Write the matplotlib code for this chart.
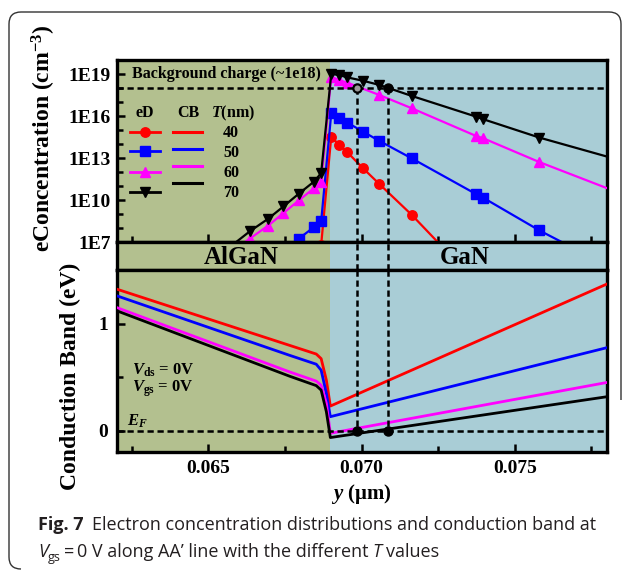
import numpy as np
import matplotlib
matplotlib.use("Agg")
import matplotlib.pyplot as plt
from matplotlib.path import Path
from matplotlib.patches import PathPatch
from matplotlib.lines import Line2D

# ---- data -------------------------------------------------------------
t_values = [40, 50, 60, 70]
colors = ["#ff0000", "#0000ff", "#ff00ff", "#000000"]
markers = ["o", "s", "^", "v"]

# electron density, log10(cm^-3) along y (um)
ed_y_40 = [0.06845, 0.06868, 0.06901, 0.06926, 0.06953, 0.07004, 0.07058, 0.07164, 0.07270]
ed_log_40 = [3.5, 6.8, 14.53, 13.94, 13.42, 12.28, 11.14, 8.93, 6.5]

ed_y_50 = [0.06745, 0.06795, 0.06845, 0.06868, 0.06901, 0.06926, 0.06953, 0.07004,
           0.07058, 0.07164, 0.07373, 0.07397, 0.07580, 0.07750]
ed_log_50 = [6.38, 7.24, 8.07, 8.47, 16.20, 15.84, 15.53, 14.89,
             14.22, 12.97, 10.43, 10.16, 7.83, 5.9]

ed_y_60 = [0.06550, 0.06635, 0.06695, 0.06745, 0.06795, 0.06845, 0.06868, 0.06901,
           0.06926, 0.06953, 0.07058, 0.07164, 0.07373, 0.07397, 0.07580, 0.07850]
ed_log_60 = [5.9, 7.24, 8.17, 9.07, 9.97, 10.85, 11.32, 18.81,
             18.57, 18.38, 17.50, 16.55, 14.58, 14.41, 12.71, 10.43]

ed_y_70 = [0.06550, 0.06635, 0.06695, 0.06745, 0.06795, 0.06845, 0.06868, 0.06901,
           0.06926, 0.06953, 0.07004, 0.07058, 0.07164, 0.07373, 0.07397, 0.07580, 0.07850]
ed_log_70 = [6.3, 7.76, 8.66, 9.54, 10.45, 11.32, 11.92, 19.0,
             18.93, 18.76, 18.52, 18.22, 17.43, 15.96, 15.77, 14.46, 12.8]

# conduction band (eV)
cb_y = [0.06200, 0.06765, 0.06852, 0.06868, 0.06885, 0.06898, 0.07800]
cb_40 = [1.322, 0.796, 0.715, 0.672, 0.471, 0.229, 1.368]
cb_50 = [1.260, 0.703, 0.620, 0.564, 0.347, 0.130, 0.774]
cb_60 = [1.150, 0.548, 0.462, 0.424, 0.254, -0.025, 0.449]
cb_70 = [1.120, 0.508, 0.420, 0.378, 0.176, -0.065, 0.316]

ed_y = [ed_y_40, ed_y_50, ed_y_60, ed_y_70]
ed_log = [ed_log_40, ed_log_50, ed_log_60, ed_log_70]
cb = [cb_40, cb_50, cb_60, cb_70]

interface = 0.06898
cross_y = [0.06986, 0.07087]
background = 1e18

# ---- style ------------------------------------------------------------
plt.rcParams["font.family"] = "Liberation Serif"
plt.rcParams["font.weight"] = "bold"
plt.rcParams["mathtext.fontset"] = "custom"
plt.rcParams["mathtext.rm"] = "Liberation Serif:bold"
plt.rcParams["mathtext.bf"] = "Liberation Serif:bold"
plt.rcParams["mathtext.it"] = "Liberation Serif:italic:bold"

algan_c = "#b3c08f"
gan_c = "#a9cdd6"

W, H = 630, 571


def fx(px):
    return px / W


def fy(py):
    return 1 - py / H


fig = plt.figure(figsize=(W / 100, H / 100), dpi=100)

L, R = 116.5, 606.7
ax1 = fig.add_axes([fx(L), fy(242), (R - L) / W, 182 / H])
strip = fig.add_axes([fx(L), fy(270), (R - L) / W, 28 / H])
ax2 = fig.add_axes([fx(L), fy(452), (R - L) / W, 182 / H])

for ax in (ax1, strip, ax2):
    ax.set_xlim(0.062, 0.078)
    ax.axvspan(0.062, interface, color=algan_c, lw=0, zorder=0)
    ax.axvspan(interface, 0.078, color=gan_c, lw=0, zorder=0)
    for s in ax.spines.values():
        s.set_linewidth(2.4)
    ax.tick_params(which="both", direction="in", width=1.8, labelsize=14)
    ax.tick_params(which="major", length=6)
    ax.tick_params(which="minor", length=4)

# ---- electron density ---------------------------------------------------
for y, lg, c, m in zip(ed_y, ed_log, colors, markers):
    ax1.plot(y, 10 ** np.array(lg), color=c, lw=1.6, marker=m, ms=6.8,
             mec=c, zorder=3)

ax1.axhline(background, color="k", ls=(0, (2.5, 1.5)), lw=1.8, zorder=4)
for xc in cross_y:
    ax1.plot([xc, xc], [background, 1e7], color="k", ls=(0, (2.5, 1.5)), lw=1.8, zorder=4)
ax1.plot(cross_y[0], background, "o", mfc="#9a9a9a", mec="k", mew=1.6, ms=6, zorder=5)
ax1.plot(cross_y[1], background, "o", color="k", ms=6.5, zorder=5)

ax1.set_yscale("log")
ax1.set_ylim(1e7, 1e20)
ax1.set_yticks([1e7, 1e10, 1e13, 1e16, 1e19], ["1E7", "1E10", "1E13", "1E16", "1E19"])
ax1.set_yticks([1e8, 1e9, 1e11, 1e12, 1e14, 1e15, 1e17, 1e18], minor=True)
ax1.set_yticklabels([], minor=True)
ax1.set_xticks([0.065, 0.070, 0.075])
ax1.set_xticks([0.0625, 0.0675, 0.0725, 0.0775], minor=True)
ax1.tick_params(axis="x", labelbottom=False)
ax1.tick_params(axis="y", pad=4)

ax1.text(0.0625, 10 ** 19.0, "Background charge (~1e18)", fontsize=11.5,
         va="center", ha="left")


# legend built by hand: marker column, line column, thickness column
def axf(px, py):
    return ((px - L) / (R - L), (242 - py) / 182)


hdr = 113
for txt, px in [("eD", 145), ("CB", 188), ("$T$(nm)", 233)]:
    ax1.text(*axf(px, hdr), txt, transform=ax1.transAxes, fontsize=11.5,
             ha="center", va="center")
ed_rows = [131.7, 150.7, 171.7, 191.7]
cb_rows = [131.7, 149.3, 166.0, 183.3]
num_rows = [132.5, 152.7, 172.7, 192.7]
for i, (t, c, m) in enumerate(zip(t_values, colors, markers)):
    x0, y0 = axf(130, ed_rows[i])
    x1, _ = axf(160, ed_rows[i])
    ax1.add_line(Line2D([x0, x1], [y0, y0], color=c, lw=2.0, transform=ax1.transAxes,
                        clip_on=False, zorder=6))
    xm, _ = axf(145, ed_rows[i])
    ax1.add_line(Line2D([xm], [y0], color=c, marker=m, ms=6.8, transform=ax1.transAxes,
                        clip_on=False, zorder=6))
    x0, y0 = axf(173, cb_rows[i])
    x1, _ = axf(202, cb_rows[i])
    ax1.add_line(Line2D([x0, x1], [y0, y0], color=c, lw=2.2, transform=ax1.transAxes,
                        clip_on=False, zorder=6))
    ax1.text(*axf(231, num_rows[i]), str(t), transform=ax1.transAxes, fontsize=11.5,
             ha="center", va="center")

# ---- material strip -----------------------------------------------------
strip.set_ylim(0, 1)
strip.set_xticks([])
strip.set_yticks([])
for xc in cross_y:
    strip.axvline(xc, color="k", ls=(0, (2.5, 1.5)), lw=1.8)
strip.text(0.06606, 0.45, "AlGaN", fontsize=18, ha="center", va="center")
strip.text(0.07338, 0.45, "GaN", fontsize=18, ha="center", va="center")

# ---- conduction band ----------------------------------------------------
for vals, c in zip(cb, colors):
    ax2.plot(cb_y, vals, color=c, lw=2.0, zorder=3)
ax2.axhline(0, color="k", ls=(0, (2.5, 1.5)), lw=1.8, zorder=4)
for xc in cross_y:
    ax2.plot([xc, xc], [1.5, 0], color="k", ls=(0, (2.5, 1.5)), lw=1.8, zorder=4)
    ax2.plot(xc, 0, "o", color="k", ms=6.5, zorder=5)

ax2.set_ylim(-0.2, 1.5)
ax2.set_yticks([0, 1], ["0", "1"])
ax2.set_yticks([0.5], minor=True)
ax2.set_yticklabels([], minor=True)
ax2.set_xticks([0.065, 0.070, 0.075], ["0.065", "0.070", "0.075"])
ax2.set_xticks([0.0625, 0.0675, 0.0725, 0.0775], minor=True)
ax2.tick_params(axis="x", pad=6)
ax2.tick_params(axis="y", pad=6)

ax2.text(0.0625, 0.565, r"$V_{\rm ds}$ = 0V", fontsize=12, va="center")
ax2.text(0.0625, 0.395, r"$V_{\rm gs}$ = 0V", fontsize=12, va="center")
ax2.text(0.06235, 0.085, r"$E_F$", fontsize=12, va="center")

# axis titles
fig.text(fx(44), fy(138), r"eConcentration (cm$^{-3}$)", rotation=90, fontsize=17,
         ha="center", va="center")
fig.text(fx(70), fy(376), "Conduction Band (eV)", rotation=90, fontsize=17,
         ha="center", va="center")
fig.text(fx(361), fy(494), r"$y$ (μm)", fontsize=15, ha="center", va="center")

# ---- outer frame --------------------------------------------------------
pts = [(21, 569), (9, 569), (9, 557), (9, 24), (9, 12), (21, 12),
       (609, 12), (621, 12), (621, 24), (621, 400)]
codes = [Path.MOVETO, Path.CURVE3, Path.CURVE3, Path.LINETO, Path.CURVE3, Path.CURVE3,
         Path.LINETO, Path.CURVE3, Path.CURVE3, Path.LINETO]
frame = Path([(fx(a), fy(b)) for a, b in pts], codes)
fig.add_artist(PathPatch(frame, fc="none", ec="#333333", lw=1.0, transform=fig.transFigure))

# ---- caption ------------------------------------------------------------
renderer = fig.canvas.get_renderer()
cap_font = ["Open Sans", "DejaVu Sans"]
cap_col = "#231f20"


def put_runs(x_px, y_px, runs):
    x = x_px
    for txt, kw, dy, gap in runs:
        x += gap
        t = fig.text(fx(x), fy(y_px + dy), txt, ha="left", va="baseline",
                     color=cap_col, family=cap_font, **kw)
        x += t.get_window_extent(renderer=renderer).width


reg = dict(fontsize=13, weight="normal")
put_runs(38, 530, [
    ("Fig. 7", dict(fontsize=13, weight="bold"), 0, 0),
    ("Electron concentration distributions and conduction band at", reg, 0, 8),
])
put_runs(38, 557, [
    ("V", dict(fontsize=13, weight="normal", style="italic"), 0, 0),
    ("gs", dict(fontsize=9, weight="normal"), 4, 0),
    ("=", reg, 0, 3),
    ("0 V along AA’ line with the different", reg, 0, 3),
    ("T", dict(fontsize=13, weight="normal", style="italic"), 0, 4),
    ("values", reg, 0, 4),
])

fig.savefig("out.png", dpi=100)
